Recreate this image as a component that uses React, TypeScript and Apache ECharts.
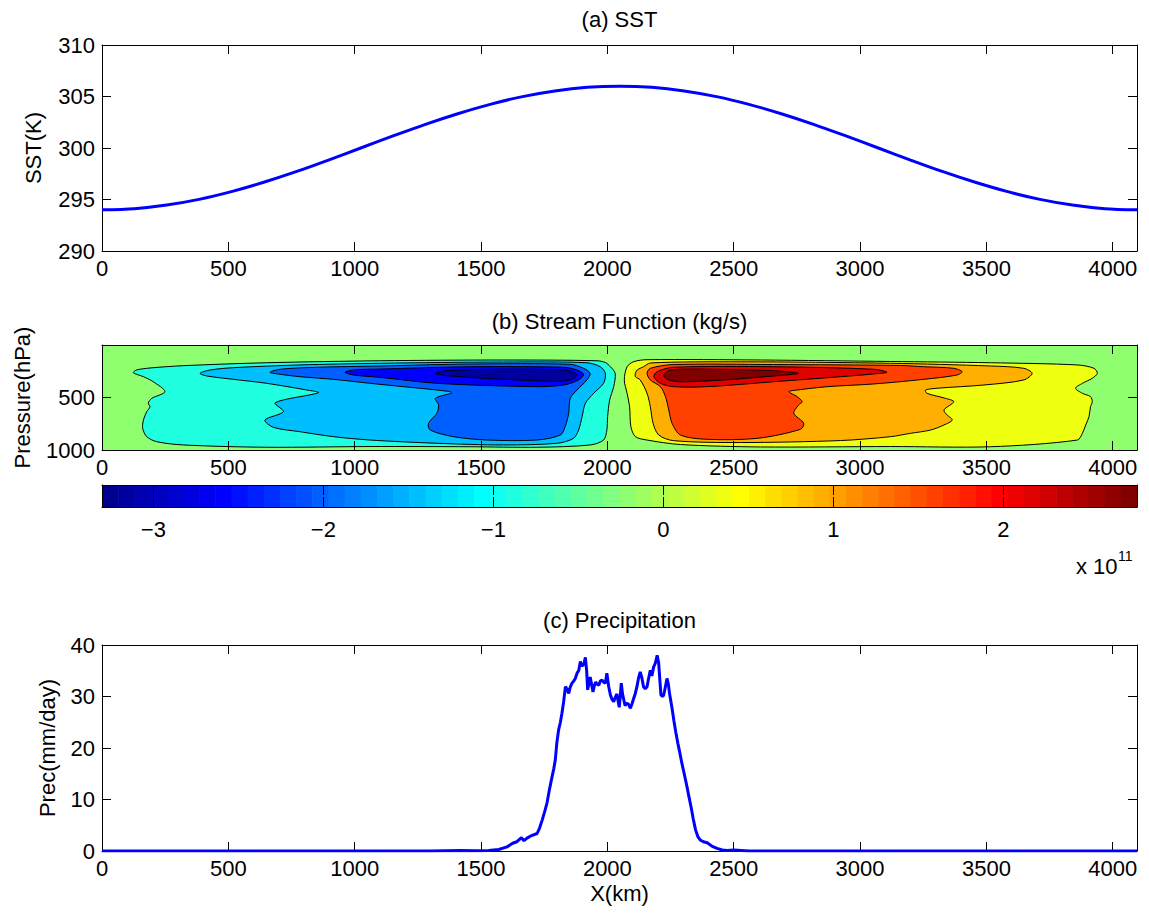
import { useEffect, useRef } from 'react';
import * as echarts from 'echarts';

// ---------------------------------------------------------------------------
// Data
// ---------------------------------------------------------------------------

// (a) Sea-surface temperature along the domain
const SST_X_KM = [0, 128, 256, 384, 512, 640, 768, 896, 1024, 1152, 1280, 1408, 1536, 1664, 1792, 1920, 2048,
  2176, 2304, 2432, 2560, 2688, 2816, 2944, 3072, 3200, 3328, 3456, 3584, 3712, 3840, 3968, 4096];
const SST_K = [294.0, 294.11, 294.46, 295.01, 295.76, 296.67, 297.7, 298.83, 300.0, 301.17, 302.3, 303.33, 304.24, 304.99, 305.54, 305.89, 306.0,
  305.89, 305.54, 304.99, 304.24, 303.33, 302.3, 301.17, 300.0, 298.83, 297.7, 296.67, 295.76, 295.01, 294.46, 294.11, 294.0];

// (c) Precipitation
const PREC_X_KM = [0, 500, 1000, 1300, 1420, 1480, 1530, 1570, 1603, 1625, 1642, 1660, 1670, 1682, 1700, 1722, 1732, 1742,
  1751, 1761, 1771, 1781, 1788, 1794, 1800, 1807, 1814, 1820, 1827, 1834, 1840, 1847, 1853, 1860, 1867, 1873, 1880,
  1887, 1893, 1898, 1903, 1908, 1913, 1918, 1922, 1927, 1932, 1937, 1943, 1948, 1953, 1960, 1966, 1972, 1979, 1985,
  1992, 1998, 2005, 2012, 2018, 2025, 2031, 2038, 2043, 2047, 2051, 2055, 2060, 2064, 2070, 2077, 2084, 2091, 2097,
  2104, 2110, 2117, 2123, 2130, 2137, 2143, 2150, 2157, 2163, 2170, 2176, 2183, 2190, 2197, 2203, 2208, 2212, 2218,
  2223, 2230, 2236, 2241, 2246, 2255, 2263, 2271, 2279, 2287, 2295, 2305, 2315, 2323, 2331, 2340, 2349, 2358, 2368,
  2380, 2395, 2415, 2434, 2455, 2474, 2500, 2530, 2560, 3000, 3500, 4096];
const PREC_MM_DAY = [0, 0, 0, 0, 0.1, 0.05, 0.1, 0.3, 0.8, 1.5, 1.8, 2.6, 2.0, 2.5, 3.0, 3.4, 4.5, 6,
  7.5, 9.3, 12, 14.4, 16, 17.7, 21, 23.5, 25, 26.7, 29, 31.9, 31.5, 30.6, 31.8, 32.6, 33, 33.5, 34.5,
  35.1, 36.8, 36.0, 36, 36.5, 37.6, 35, 31.3, 32.5, 33.8, 32.5, 30.9, 32, 32.8, 32.4, 32.2, 33, 33.2, 32.8,
  32.6, 34.5, 32, 30.3, 29.5, 29, 29.8, 30.5, 29, 27.9, 30, 32.6, 30.5, 29.6, 28.2, 28.7, 28.5, 27.7, 28.5,
  29.6, 30.5, 31.9, 33.5, 34.8, 33.5, 31.9, 31.5, 31.9, 33.5, 35.1, 34, 35.7, 36.5, 38, 36.5, 33, 30.3, 30,
  30.3, 32, 33.5, 32.5, 30.6, 28, 25.4, 23, 20.9, 19, 17, 14.8, 12.5, 10.5, 8.6, 6.2, 4.1, 2.8, 2.1,
  1.8, 1.6, 0.9, 0.5, 0.2, 0.1, 0.2, 0.1, 0, 0, 0, 0];

// (b) Stream function: filled contour outlines as [x (km), pressure (hPa)] rings
// Negative cell (west), outermost level first
const PSI_NEG_1 = [[124, 264], [137, 238], [190, 219], [322, 197], [652, 169], [1101, 150], [1588, 143], [1959, 150],
  [1992, 167], [2012, 207], [2031, 270], [2025, 397], [2009, 524], [2001, 683], [1998, 810], [1985, 905], [1932, 952],
  [1721, 974], [1457, 969], [1061, 967], [652, 974], [322, 952], [217, 921], [177, 873], [161, 793], [164, 714],
  [177, 635], [190, 588], [183, 555], [197, 508], [249, 445], [203, 350], [164, 302]];
const PSI_NEG_2 = [[388, 270], [428, 238], [520, 216], [784, 190], [1101, 174], [1589, 162], [1919, 169], [1972, 207],
  [1992, 270], [1985, 365], [1946, 460], [1913, 555], [1900, 683], [1886, 810], [1866, 889], [1801, 936], [1589, 952],
  [1325, 936], [1061, 905], [916, 873], [784, 826], [678, 784], [645, 714], [718, 635], [685, 550], [857, 454],
  [811, 429], [652, 365], [520, 327], [415, 295]];
const PSI_NEG_3 = [[665, 260], [705, 231], [850, 212], [1101, 200], [1457, 181], [1853, 184], [1906, 222], [1932, 270],
  [1919, 333], [1880, 429], [1853, 508], [1847, 650], [1833, 778], [1814, 857], [1721, 905], [1523, 905], [1391, 873],
  [1299, 810], [1292, 746], [1325, 650], [1332, 571], [1319, 508], [1385, 454], [1325, 429], [1193, 397], [1061, 365],
  [916, 327], [784, 302], [705, 279]];
const PSI_NEG_4 = [[962, 260], [995, 238], [1101, 229], [1457, 207], [1827, 212], [1880, 238], [1906, 279], [1886, 333],
  [1827, 381], [1721, 397], [1325, 365], [1101, 308], [995, 286]];
const PSI_NEG_5 = [[1319, 270], [1365, 245], [1589, 231], [1827, 238], [1866, 260], [1880, 286], [1860, 327],
  [1814, 346], [1589, 327], [1365, 292]];

// Positive cell (east), outermost level first
const PSI_POS_1 = [[2078, 207], [2104, 159], [2157, 140], [2606, 143], [3121, 157], [3516, 169], [3860, 190], [3926, 222],
  [3939, 270], [3919, 317], [3880, 365], [3853, 412], [3880, 460], [3912, 492], [3919, 540], [3912, 588], [3906, 683],
  [3893, 762], [3880, 841], [3860, 905], [3516, 969], [3121, 967], [2606, 971], [2289, 948], [2157, 905], [2111, 873],
  [2093, 778], [2088, 588], [2078, 460], [2067, 333]];
const PSI_POS_2 = [[2118, 238], [2143, 207], [2170, 171], [2526, 160], [3121, 174], [3516, 200], [3648, 222], [3681, 270],
  [3648, 333], [3490, 381], [3305, 412], [3259, 429], [3265, 460], [3338, 508], [3371, 540], [3332, 619], [3345, 667],
  [3365, 714], [3332, 762], [3279, 810], [3200, 841], [3121, 873], [2922, 910], [2526, 929], [2262, 911], [2203, 857],
  [2181, 746], [2170, 588], [2157, 460], [2130, 333], [2111, 302], [2111, 270]];
const PSI_POS_3 = [[2157, 270], [2170, 222], [2262, 186], [2658, 186], [3160, 195], [3252, 207], [3371, 222], [3404, 254],
  [3384, 286], [3252, 327], [3054, 371], [2870, 397], [2751, 429], [2718, 445], [2751, 492], [2771, 540], [2757, 571],
  [2738, 650], [2777, 746], [2764, 803], [2593, 889], [2394, 898], [2289, 857], [2256, 746], [2243, 619], [2230, 492],
  [2210, 397], [2170, 333]];
const PSI_POS_4 = [[2184, 302], [2197, 254], [2262, 212], [2658, 207], [3054, 231], [3107, 260], [3054, 276], [2923, 302],
  [2658, 350], [2394, 397], [2262, 397], [2210, 365]];
const PSI_POS_5 = [[2236, 327], [2223, 286], [2249, 238], [2394, 231], [2658, 245], [2757, 270], [2658, 295],
  [2460, 333], [2289, 350]];

// jet(64) colour index of each filled level
const PSI_RINGS = [PSI_NEG_1, PSI_NEG_2, PSI_NEG_3, PSI_NEG_4, PSI_NEG_5, PSI_POS_1, PSI_POS_2, PSI_POS_3, PSI_POS_4, PSI_POS_5];
const PSI_COLOR_INDEX = [25, 19, 13, 7, 1, 38, 44, 51, 57, 63];
const PSI_BACKGROUND_INDEX = 32;

// Colour bar range (units of 1e11 kg/s) and ticks
const PSI_MIN = -3.302;
const PSI_MAX = 2.786;
const PSI_TICKS = [-3, -2, -1, 0, 1, 2];

const X_TICKS_KM = [0, 500, 1000, 1500, 2000, 2500, 3000, 3500, 4000];
const PRESSURE_TICKS_HPA = [500, 1000];

// ---------------------------------------------------------------------------
// Styling helpers
// ---------------------------------------------------------------------------

const FONT = "'Liberation Sans', Arial, Helvetica, sans-serif";
const FONT_SIZE = 22;
const LEFT = 102;
const WIDTH = 1035;
const CENTER_X = LEFT + WIDTH / 2;

// MATLAB jet colormap with 64 entries
function jet64(i: number): string {
  const c = (v: number) => Math.round(255 * Math.max(0, Math.min(1, v)));
  const r = Math.min((i - 23) / 16, 1 - (i - 55) / 16);
  const g = Math.min((i - 7) / 16, 1 - (i - 39) / 16);
  const b = Math.min((i + 9) / 16, 1 - (i - 23) / 16);
  return `rgb(${c(r)},${c(g)},${c(b)})`;
}

const plain = (v: number) => String(v);
const labelStyle = { color: '#000', fontSize: FONT_SIZE, fontFamily: FONT, formatter: plain };
const nameStyle = { color: '#000', fontSize: FONT_SIZE, fontFamily: FONT };
const axisLine = { show: true, onZero: false, lineStyle: { color: '#000', width: 1 } };

function xAxisKm(gridIndex: number, position: 'top' | 'bottom', extra: Record<string, unknown> = {}) {
  return {
    type: 'value', gridIndex, position, min: 0, max: 4096, interval: 500,
    axisLine,
    axisTick: { show: true, inside: true, length: 9, customValues: X_TICKS_KM, lineStyle: { color: '#000' } },
    axisLabel: { show: position === 'bottom', customValues: X_TICKS_KM, margin: 6, ...labelStyle },
    splitLine: { show: false },
    ...extra,
  };
}

function yAxisValue(gridIndex: number, position: 'left' | 'right', extra: Record<string, unknown> = {}) {
  return {
    type: 'value', gridIndex, position,
    axisLine,
    axisTick: { show: true, inside: true, length: 9, lineStyle: { color: '#000' } },
    axisLabel: { show: position === 'left', margin: 7, ...labelStyle },
    splitLine: { show: false },
    ...extra,
  };
}

function centeredText(text: string, x: number, y: number, size: number, align: 'left' | 'center' = 'center') {
  return {
    type: 'text', x, y,
    style: {
      text, align, verticalAlign: 'middle', textAlign: align, textVerticalAlign: 'middle',
      fill: '#000', font: `${size}px ${FONT}`,
    },
  };
}

export default function App() {
  const ref = useRef<HTMLDivElement>(null);

  useEffect(() => {
    if (!ref.current) return;
    const chart = echarts.init(ref.current, undefined, { renderer: 'svg' });

    const bandStep = (PSI_MAX - PSI_MIN) / 64;
    const bands = Array.from({ length: 64 }, (_, i) => [PSI_MIN + i * bandStep, PSI_MIN + (i + 1) * bandStep]);

    const option = {
      animation: false,
      backgroundColor: '#fff',
      textStyle: { fontFamily: FONT },
      grid: [
        { left: LEFT, top: 45, width: WIDTH, height: 206 },
        { left: LEFT, top: 345, width: WIDTH, height: 105, show: true, backgroundColor: jet64(PSI_BACKGROUND_INDEX), borderWidth: 0 },
        { left: LEFT, top: 485, width: WIDTH, height: 22 },
        { left: LEFT, top: 645, width: WIDTH, height: 206 },
      ],
      xAxis: [
        xAxisKm(0, 'bottom'),
        xAxisKm(0, 'top'),
        xAxisKm(1, 'bottom', { z: 5 }),
        xAxisKm(1, 'top', { z: 5 }),
        {
          type: 'value', gridIndex: 2, position: 'bottom', min: PSI_MIN, max: PSI_MAX, z: 10,
          axisLine,
          axisTick: { show: true, inside: true, length: 10, customValues: PSI_TICKS, lineStyle: { color: '#000' } },
          axisLabel: {
            customValues: PSI_TICKS, margin: 11, ...labelStyle,
            formatter: (v: number) => (v < 0 ? '\u2212' + Math.abs(v) : String(v)),
          },
          splitLine: { show: false },
        },
        {
          type: 'value', gridIndex: 2, position: 'top', min: PSI_MIN, max: PSI_MAX, z: 10,
          axisLine,
          axisTick: { show: true, inside: true, length: 10, customValues: PSI_TICKS, lineStyle: { color: '#000' } },
          axisLabel: { show: false },
          splitLine: { show: false },
        },
        xAxisKm(3, 'bottom', { name: 'X(km)', nameLocation: 'middle', nameGap: 31, nameTextStyle: nameStyle }),
        xAxisKm(3, 'top'),
      ],
      yAxis: [
        yAxisValue(0, 'left', { min: 290, max: 310, interval: 5, name: 'SST(K)', nameLocation: 'middle', nameGap: 58, nameTextStyle: nameStyle }),
        yAxisValue(0, 'right', { min: 290, max: 310, interval: 5 }),
        yAxisValue(1, 'left', {
          min: 0, max: 1000, inverse: true, z: 5,
          axisTick: { show: true, inside: true, length: 9, customValues: PRESSURE_TICKS_HPA, lineStyle: { color: '#000' } },
          axisLabel: { show: true, margin: 7, customValues: PRESSURE_TICKS_HPA, ...labelStyle },
          name: 'Pressure(hPa)', nameLocation: 'middle', nameGap: 69, nameTextStyle: nameStyle,
        }),
        yAxisValue(1, 'right', {
          min: 0, max: 1000, inverse: true, z: 5,
          axisTick: { show: true, inside: true, length: 9, customValues: PRESSURE_TICKS_HPA, lineStyle: { color: '#000' } },
          axisLabel: { show: false },
        }),
        yAxisValue(2, 'left', { min: 0, max: 1, z: 10, axisTick: { show: false }, axisLabel: { show: false } }),
        yAxisValue(2, 'right', { min: 0, max: 1, z: 10, axisTick: { show: false }, axisLabel: { show: false } }),
        yAxisValue(3, 'left', { min: 0, max: 40, interval: 10, name: 'Prec(mm/day)', nameLocation: 'middle', nameGap: 44, nameTextStyle: nameStyle }),
        yAxisValue(3, 'right', { min: 0, max: 40, interval: 10 }),
      ],
      series: [
        {
          name: 'SST',
          type: 'line',
          xAxisIndex: 0,
          yAxisIndex: 0,
          data: SST_X_KM.map((x, i) => [x, SST_K[i]]),
          smooth: 0.3,
          showSymbol: false,
          lineStyle: { color: '#0000ff', width: 3 },
        },
        {
          name: 'Stream function',
          type: 'custom',
          xAxisIndex: 2,
          yAxisIndex: 2,
          clip: true,
          data: PSI_RINGS.map((ring) => ring[0]),
          renderItem: (params: any, api: any) => {
            const ring = PSI_RINGS[params.dataIndex];
            return {
              type: 'polygon',
              shape: { points: ring.map((p) => api.coord(p)), smooth: 0.3 },
              style: { fill: jet64(PSI_COLOR_INDEX[params.dataIndex]), stroke: '#000', lineWidth: 1 },
            };
          },
        },
        {
          name: 'Colour bar',
          type: 'custom',
          xAxisIndex: 4,
          yAxisIndex: 4,
          data: bands,
          renderItem: (params: any, api: any) => {
            const a = api.coord([api.value(0), 1]);
            const b = api.coord([api.value(1), 0]);
            return {
              type: 'rect',
              shape: { x: a[0], y: a[1], width: b[0] - a[0] + 0.6, height: b[1] - a[1] },
              style: { fill: jet64(params.dataIndex), stroke: null },
            };
          },
        },
        {
          name: 'Precipitation',
          type: 'line',
          xAxisIndex: 6,
          yAxisIndex: 6,
          data: PREC_X_KM.map((x, i) => [x, PREC_MM_DAY[i]]),
          showSymbol: false,
          lineStyle: { color: '#0000ff', width: 3 },
        },
      ],
      graphic: [
        centeredText('(a) SST', CENTER_X, 19, FONT_SIZE),
        centeredText('(b) Stream Function (kg/s)', CENTER_X, 321, FONT_SIZE),
        centeredText('(c) Precipitation', CENTER_X, 620, FONT_SIZE),
        centeredText('x 10', 1076, 566, FONT_SIZE, 'left'),
        centeredText('11', 1118, 556, 14, 'left'),
      ],
    };

    chart.setOption(option as any);
    return () => chart.dispose();
  }, []);

  return <div ref={ref} style={{ position: 'absolute', left: 0, top: 0, width: 1149, height: 915 }} />;
}
